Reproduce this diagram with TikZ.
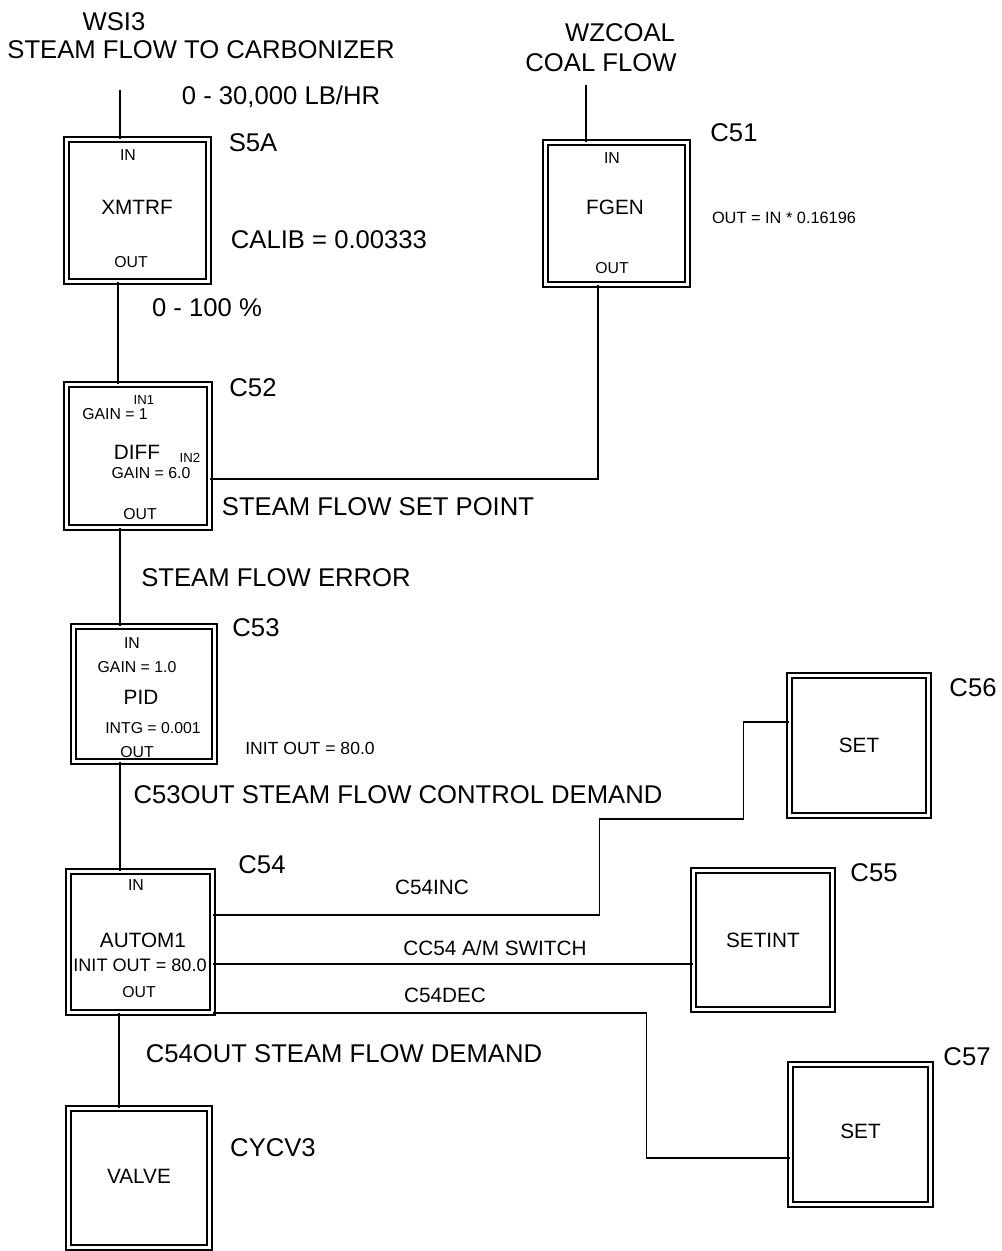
\documentclass[tikz,border=0pt]{standalone}
\usepackage{fontspec}
\setmainfont{Liberation Sans}

\begin{document}
\begin{tikzpicture}[x=0.02cm, y=-0.02cm]
    \tikzstyle{block} = [rectangle, draw, double, double distance=2pt, line width=0.8pt, inner sep=0pt, minimum width=2.84cm, minimum height=2.84cm]
    \tikzstyle{bigtext} = [font=\fontsize{14.6}{16}\selectfont, inner sep=0pt]
    \tikzstyle{midtext} = [font=\fontsize{11.8}{13}\selectfont, inner sep=0pt]
    \tikzstyle{smalltext} = [font=\fontsize{9}{10}\selectfont, inner sep=0pt]
    \tikzstyle{tinytext} = [font=\fontsize{7.5}{8}\selectfont, inner sep=0pt]
    \tikzstyle{wire} = [line width=0.9pt]

    \useasboundingbox (0,0) rectangle (1001,1251);

    % Blocks
    \node [block] (xmtrf) at (137.5,210.5) {};
    \node [block] (fgen) at (616.5,213.5) {};
    \node [block, minimum width=2.86cm, minimum height=2.86cm] (diff) at (138,456) {};
    \node [block, minimum width=2.82cm, minimum height=2.7cm] (pid) at (144,694) {};
    \node [block, minimum width=2.88cm, minimum height=2.82cm] (autom) at (140.5,942) {};
    \node [block, minimum width=2.82cm, minimum height=2.78cm] (valve) at (139,1178) {};
    \node [block, minimum width=2.78cm, minimum height=2.8cm] (setinc) at (859,745.5) {};
    \node [block, minimum width=2.78cm, minimum height=2.78cm] (setint) at (763,940) {};
    \node [block, minimum width=2.8cm, minimum height=2.8cm] (setdec) at (860.5,1134.5) {};

    % Text inside the blocks
    \node [smalltext] (xmtrfin) at (128,155) {IN};
    \node [midtext] (xmtrfname) at (137,207) {XMTRF};
    \node [smalltext] (xmtrfout) at (131,262) {OUT};

    \node [smalltext] (fgenin) at (612,158) {IN};
    \node [midtext] (fgenname) at (615,207) {FGEN};
    \node [smalltext] (fgenout) at (612,268) {OUT};

    \node [tinytext] (diffinone) at (144,400) {IN1};
    \node [smalltext] (diffgainone) at (115,414) {GAIN = 1};
    \node [midtext] (diffname) at (137,452) {DIFF};
    \node [tinytext] (diffintwo) at (190,458) {IN2};
    \node [smalltext] (diffgaintwo) at (151,473) {GAIN = 6.0};
    \node [smalltext] (diffout) at (140,514) {OUT};

    \node [smalltext] (pidin) at (132,643) {IN};
    \node [smalltext] (pidgain) at (137,667) {GAIN = 1.0};
    \node [midtext] (pidname) at (141,697) {PID};
    \node [smalltext] (pidintg) at (153,728) {INTG = 0.001};
    \node [smalltext] (pidout) at (137,752) {OUT};

    \node [smalltext] (automin) at (136,885) {IN};
    \node [midtext] (automname) at (143,940) {AUTOM1};
    \node [font=\fontsize{10.3}{11}\selectfont, inner sep=0pt] (autominit) at (140,965) {INIT OUT = 80.0};
    \node [smalltext] (automout) at (139,992) {OUT};

    \node [midtext] (valvename) at (139,1176) {VALVE};
    \node [midtext] (setincname) at (859,745) {SET};
    \node [midtext] (setintname) at (763,940) {SETINT};
    \node [midtext] (setdecname) at (860.5,1131) {SET};

    % Labels
    \node [bigtext] (wsi) at (114,22) {WSI3};
    \node [bigtext] (wsidesc) at (201,50) {STEAM FLOW TO CARBONIZER};
    \node [bigtext] (wsirange) at (281,97) {0 - 30,000 LB/HR};
    \node [bigtext] (tagxmtrf) at (253,143) {S5A};
    \node [bigtext] (calib) at (329,240) {CALIB = 0.00333};
    \node [bigtext] (pctrange) at (207,308) {0 - 100 \%};

    \node [bigtext] (wzcoal) at (620,33) {WZCOAL};
    \node [bigtext] (coalflow) at (601,63) {COAL FLOW};
    \node [bigtext] (tagfgen) at (734,133) {C51};
    \node [font=\fontsize{9.3}{10}\selectfont, inner sep=0pt] (fgenfn) at (784,218) {OUT = IN * 0.16196};

    \node [bigtext] (tagdiff) at (253,388) {C52};
    \node [bigtext] (setpoint) at (378,507) {STEAM FLOW SET POINT};
    \node [bigtext] (flowerror) at (276,578) {STEAM FLOW ERROR};

    \node [bigtext] (tagpid) at (256,628) {C53};
    \node [font=\fontsize{10}{11}\selectfont, inner sep=0pt] (pidinit) at (310,748) {INIT OUT = 80.0};
    \node [bigtext] (ctrldemand) at (398,795) {C53OUT STEAM FLOW CONTROL DEMAND};

    \node [bigtext] (tagautom) at (262,865) {C54};
    \node [midtext] (incsig) at (432,887) {C54INC};
    \node [midtext] (amsig) at (495,948) {CC54 A/M SWITCH};
    \node [midtext] (decsig) at (445,995) {C54DEC};
    \node [bigtext] (flowdemand) at (344,1054) {C54OUT STEAM FLOW DEMAND};
    \node [bigtext] (tagvalve) at (273,1148) {CYCV3};

    \node [bigtext] (tagsetinc) at (973,688) {C56};
    \node [bigtext] (tagsetint) at (874,873) {C55};
    \node [bigtext] (tagsetdec) at (967,1057) {C57};

    % Signals
    \coordinate (wsiin) at (120,90);
    \coordinate (coalin) at (586,85);
    \draw [wire] (wsiin) -- (wsiin |- xmtrf.north);
    \draw [wire] (coalin) -- (coalin |- fgen.north);
    \draw [wire] ([xshift=-0.39cm]xmtrf.south) -- ([xshift=-0.39cm]xmtrf.south |- diff.north);
    \draw [wire] ([xshift=-0.37cm]fgen.south) |- ([yshift=-0.46cm]diff.east);
    \draw [wire] ([xshift=-0.36cm]diff.south) -- ([xshift=-0.36cm]diff.south |- pid.north);
    \draw [wire] ([xshift=-0.48cm]pid.south) -- ([xshift=-0.48cm]pid.south |- autom.north);
    \draw [wire] ([xshift=-0.43cm]autom.south) -- ([xshift=-0.43cm]autom.south |- valve.north);

    \draw [wire] ([yshift=0.54cm]autom.east) -| ([xshift=-3.79cm, yshift=-1.47cm]setinc.west)
        -| ([xshift=-0.91cm, yshift=0.47cm]setinc.west) -- ([yshift=0.47cm]setinc.west);
    \draw [wire] ([yshift=-0.44cm]autom.east) -- ([yshift=-0.44cm]autom.east -| setint.west);
    \draw [wire] ([yshift=-1.42cm]autom.east) -| ([xshift=-2.87cm, yshift=-0.47cm]setdec.west)
        -- ([yshift=-0.47cm]setdec.west);
\end{tikzpicture}
\end{document}
